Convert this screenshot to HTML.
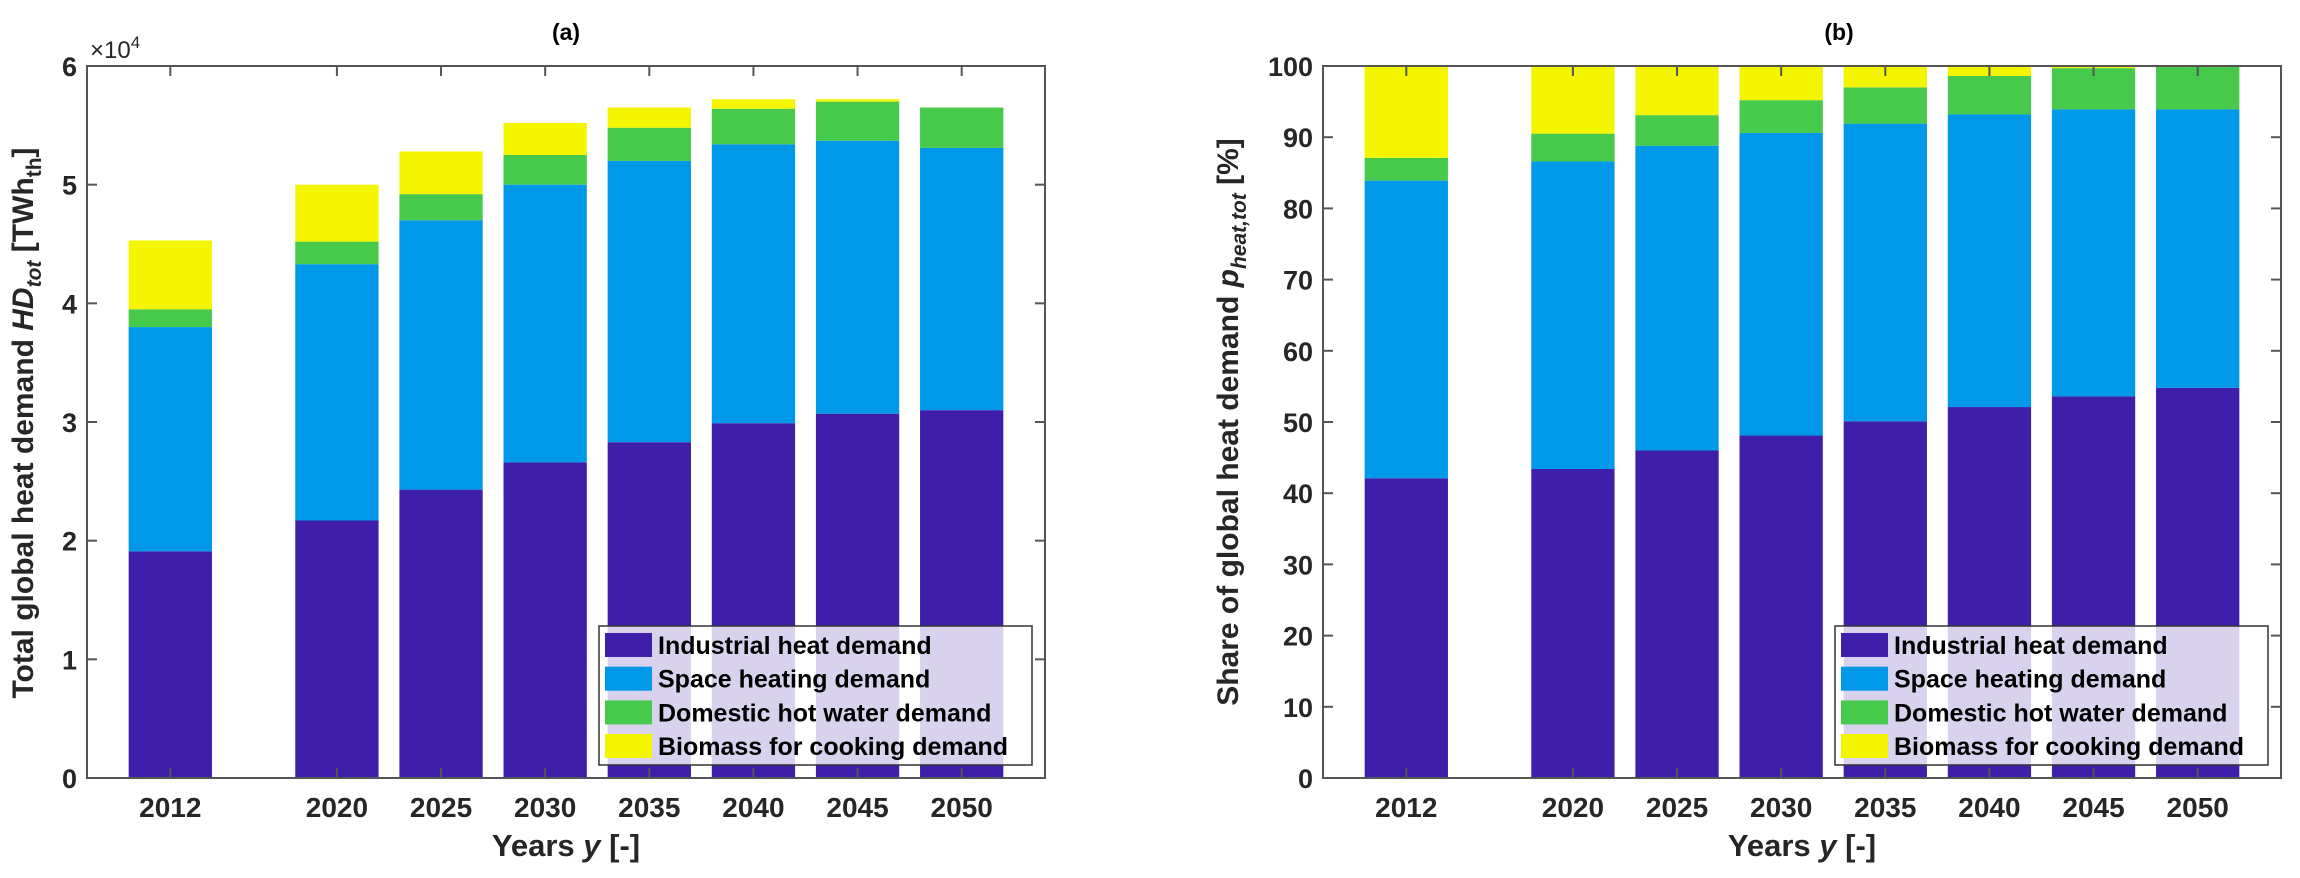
<!DOCTYPE html>
<html><head><meta charset="utf-8"><style>
html,body{margin:0;padding:0;background:#fff;}
svg{display:block;font-family:"Liberation Sans",Arial,sans-serif;}
</style></head><body>
<svg id="fig" width="2300" height="878" viewBox="0 0 2300 878"></svg>
<script>
const years = [2012, 2020, 2025, 2030, 2035, 2040, 2045, 2050];
const seriesNames = ["Industrial heat demand","Space heating demand","Domestic hot water demand","Biomass for cooking demand"];
// panel (a), units of 1e4 TWh_th (segment heights)
const aIndustrial = [1.91, 2.17, 2.43, 2.66, 2.83, 2.99, 3.07, 3.10];
const aSpace      = [1.89, 2.16, 2.27, 2.34, 2.37, 2.35, 2.30, 2.21];
const aHotWater   = [0.15, 0.19, 0.22, 0.25, 0.28, 0.30, 0.33, 0.34];
const aBiomass    = [0.58, 0.48, 0.36, 0.27, 0.17, 0.08, 0.02, 0.00];
const aTicks = [0,1,2,3,4,5,6];
// panel (b), percent (segment heights)
const bIndustrial = [42.1, 43.4, 46.0, 48.1, 50.1, 52.1, 53.6, 54.8];
const bSpace      = [41.8, 43.2, 42.8, 42.5, 41.8, 41.1, 40.3, 39.1];
const bHotWater   = [3.2, 3.9, 4.3, 4.6, 5.1, 5.4, 5.8, 6.1];
const bBiomass    = [12.9, 9.5, 6.9, 4.8, 3.0, 1.4, 0.3, 0.0];
const bTicks = [0,10,20,30,40,50,60,70,80,90,100];

const colors = ["#3f1fa9","#0098e8","#47c94b","#f5f500"];
const NS="http://www.w3.org/2000/svg";
const svg=document.getElementById('fig');
function mk(tag,attrs,parent){const e=document.createElementNS(NS,tag);for(const k in attrs)e.setAttribute(k,attrs[k]);(parent||svg).appendChild(e);return e;}

function panel(opt){
  const g=mk('g',{});
  
  
  const L=opt.left,R=opt.right,T=66,B=778;
  const xs=v=>L+(v-2008)/(2054-2008)*(R-L);
  const ys=v=>B-(v-opt.ymin)/(opt.ymax-opt.ymin)*(B-T);
  const bw=xs(2012)-xs(2008);
  const series=opt.series;
  years.forEach((yr,i)=>{
    let base=0;
    series.forEach((s,k)=>{
      const v=s[i]; if(v<=0){return;}
      const r=mk('rect',{x:xs(yr)-bw/2,y:ys(base+v),width:bw,height:ys(base)-ys(base+v),fill:colors[k]},g);
      
      
      base+=v;
    });
  });
  const ax=mk('rect',{x:L,y:T,width:R-L,height:B-T,fill:'none',stroke:'#555',"stroke-width":2},g);
  
  
  opt.ticks.forEach(t=>{
    const y=ys(t);
    mk('line',{x1:L,x2:L+10,y1:y,y2:y,stroke:'#555',"stroke-width":2},g);
    mk('line',{x1:R,x2:R-10,y1:y,y2:y,stroke:'#555',"stroke-width":2},g);
    const tx=mk('text',{x:L-10,y:y+10,"text-anchor":"end","font-size":27,"font-weight":"bold",fill:'#262626'},g);
    tx.textContent=t;
    
    
  });
  years.forEach(yr=>{
    const x=xs(yr);
    mk('line',{x1:x,x2:x,y1:B,y2:B-10,stroke:'#555',"stroke-width":2},g);
    mk('line',{x1:x,x2:x,y1:T,y2:T+10,stroke:'#555',"stroke-width":2},g);
    const tx=mk('text',{x:x,y:B+39,"text-anchor":"middle","font-size":28,"font-weight":"bold",fill:'#262626'},g);
    tx.textContent=yr;
    
    
  });
  const ti=mk('text',{x:opt.titleX,y:40,"text-anchor":"middle","font-size":23,"font-weight":"bold",fill:'#000'},g);
  ti.textContent=opt.title;
  
  
  const xl=mk('text',{x:(L+R)/2,y:856,"text-anchor":"middle","font-size":31,"font-weight":"bold",fill:'#262626'},g);
  xl.innerHTML='Years <tspan font-style="italic">y</tspan> [-]';
  
  
  const yl=mk('text',{x:0,y:0,"text-anchor":"middle","font-size":30,"font-weight":"bold",fill:'#262626',transform:`translate(${opt.ylabX},${opt.ylabY}) rotate(-90)`},g);
  yl.innerHTML=opt.ylabel;
  
  
  const lx=opt.legX,ly=626,lw=433,lh=139;
  const lg=mk('g',{},g);
  
  
  mk('rect',{x:lx,y:ly,width:lw,height:lh,fill:'rgba(255,255,255,0.8)',stroke:'#333',"stroke-width":1.5},lg);
  seriesNames.forEach((n,k)=>{
    const cy=ly+19+k*33.7;
    const e=mk('g',{},lg);
    
    
    mk('rect',{x:lx+6,y:cy-12,width:47,height:24,fill:colors[k]},e);
    const t=mk('text',{x:lx+59,y:cy+9,"font-size":25,"font-weight":"bold",fill:'#000'},e);
    t.textContent=n;
  });
}

panel({name:'panel-a',left:87,right:1045,ymin:0,ymax:6,ticks:aTicks,
  series:[aIndustrial,aSpace,aHotWater,aBiomass],title:'(a)',titleX:566,
  ylabel:'Total global heat demand <tspan font-style="italic">HD</tspan><tspan font-style="italic" font-size="21" dy="8">tot</tspan><tspan dy="-8"> [TWh</tspan><tspan font-size="21" dy="8">th</tspan><tspan dy="-8">]</tspan>',
  ylabX:33,ylabY:423,legX:599});
panel({name:'panel-b',left:1323,right:2281,ymin:0,ymax:100,ticks:bTicks,
  series:[bIndustrial,bSpace,bHotWater,bBiomass],title:'(b)',titleX:1839,
  ylabel:'Share of global heat demand <tspan font-style="italic">p</tspan><tspan font-style="italic" font-size="21" dy="8">heat,tot</tspan><tspan dy="-8"> [%]</tspan>',
  ylabX:1238,ylabY:422,legX:1835});
const ex=mk('text',{x:90,y:58,"font-size":24,fill:'#262626'});
ex.innerHTML='×10<tspan font-size="17" dy="-10">4</tspan>';


</script>
</body></html>
